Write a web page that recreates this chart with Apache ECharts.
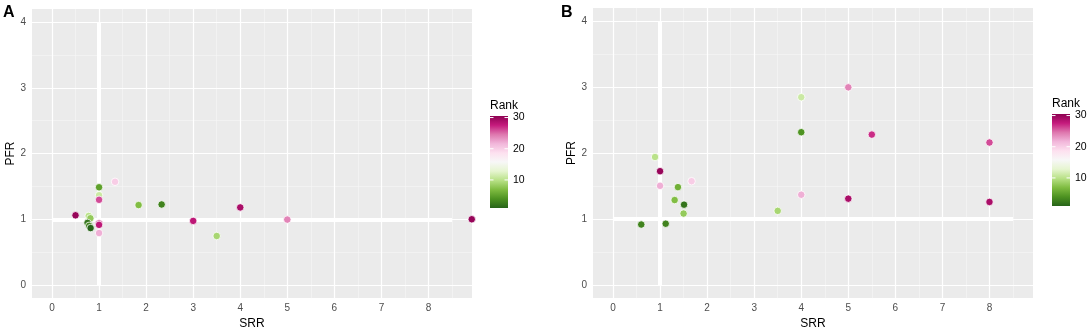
<!DOCTYPE html>
<html>
<head>
<meta charset="utf-8">
<script src="https://cdn.jsdelivr.net/npm/echarts@6/dist/echarts.min.js"></script>
<style>
  html, body { margin: 0; padding: 0; background: #fff; }
  #chart { width: 1091px; height: 335px; }
</style>
</head>
<body>
<div id="chart"></div>
<script>
// panel A
const srrA = [0.5, 0.78, 0.815, 0.755, 0.79, 0.82, 1, 1, 1, 1, 1, 1, 1.34, 1.84, 2.33, 3, 3.5, 4, 5, 8.92];
const pfrA = [1.06, 1.05, 1.015, 0.945, 0.9, 0.866, 1.487, 1.366, 1.296, 0.935, 0.915, 0.79, 1.57, 1.216, 1.225, 0.975, 0.745, 1.18, 0.995, 1.0];
const rankA = [30, 10, 8, 2, 3, 1, 5, 11, 26, 27, 28, 22, 20, 7, 3, 28, 9, 29, 24, 30];

// panel B
const srrB = [0.893, 1, 1, 1.38, 1.67, 1.31, 1.51, 1.5, 0.6, 1.12, 3.5, 4, 4, 4, 5, 5, 5.5, 8, 8];
const pfrB = [1.94, 1.725, 1.503, 1.483, 1.573, 1.287, 1.217, 1.082, 0.916, 0.928, 1.123, 2.847, 2.316, 1.368, 2.997, 1.308, 2.28, 2.16, 1.258];
const rankB = [10, 30, 22, 6, 20, 7, 2, 8, 3, 3, 9, 11, 4, 22, 24, 29, 27, 26, 29];

const xTicks = [0, 1, 2, 3, 4, 5, 6, 7, 8];
const xMinor = [0.5, 1.5, 2.5, 3.5, 4.5, 5.5, 6.5, 7.5, 8.5];
const yTicks = [0, 1, 2, 3, 4];
const yMinor = [0.5, 1.5, 2.5, 3.5];
const rankTicks = [10, 20, 30];
const RANK_MIN = 1, RANK_MAX = 30.5;

// PiYG, low -> high
const piyg = ['#276419', '#4d9221', '#7fbc41', '#b8e186', '#e6f5d0', '#f7f7f7',
              '#fde0ef', '#f1b6da', '#de77ae', '#c51b7d', '#8e0152'];

const FONT = '"Liberation Sans", Arial, sans-serif';

const grids = [
  { left: 32, top: 9, width: 440, height: 293 },
  { left: 593, top: 8, width: 440, height: 293 }
];

function xAxisFor(i) {
  return {
    gridIndex: i, type: 'value', min: -0.425, max: 8.925,
    name: 'SRR', nameLocation: 'middle', nameGap: 16,
    nameTextStyle: { color: '#000', fontSize: 12, fontFamily: FONT },
    axisLine: { show: false },
    axisTick: { show: true, customValues: xTicks, length: 3, lineStyle: { color: '#333', width: 1 } },
    axisLabel: { customValues: xTicks, color: '#4d4d4d', fontSize: 10, margin: 5, fontFamily: FONT },
    splitLine: { show: false }
  };
}

function yAxisFor(i) {
  return {
    gridIndex: i, type: 'value', min: -0.2, max: 4.2,
    name: 'PFR', nameLocation: 'middle', nameGap: 14,
    nameTextStyle: { color: '#000', fontSize: 12, fontFamily: FONT },
    axisLine: { show: false },
    axisTick: { show: true, customValues: yTicks, length: 3, lineStyle: { color: '#333', width: 1 } },
    axisLabel: { customValues: yTicks, color: '#4d4d4d', fontSize: 10, margin: 6, fontFamily: FONT },
    splitLine: { show: false }
  };
}

const minorStyle = { color: '#f7f7f7', width: 0.6, type: 'solid' };
const majorStyle = { color: '#ffffff', width: 1.2, type: 'solid' };
const refStyle = { color: '#ffffff', width: 4, type: 'solid' };

function gridSeries(i) {
  const lines = [];
  xMinor.forEach(v => lines.push({ xAxis: v, lineStyle: minorStyle }));
  yMinor.forEach(v => lines.push({ yAxis: v, lineStyle: minorStyle }));
  xTicks.forEach(v => lines.push({ xAxis: v, lineStyle: majorStyle }));
  yTicks.forEach(v => lines.push({ yAxis: v, lineStyle: majorStyle }));
  // reference lines SRR = 1 and PFR = 1
  lines.push([{ coord: [1, 0], lineStyle: refStyle }, { coord: [1, 4] }]);
  lines.push([{ coord: [0, 1], lineStyle: refStyle }, { coord: [8.5, 1] }]);
  return {
    type: 'scatter', xAxisIndex: i, yAxisIndex: i, data: [], z: 1, silent: true,
    markLine: {
      z: 1, symbol: 'none', silent: true, animation: false,
      label: { show: false }, emphasis: { disabled: true },
      data: lines
    }
  };
}

function pointSeries(i, xs, ys, ranks) {
  return {
    type: 'scatter', xAxisIndex: i, yAxisIndex: i, z: 6,
    symbolSize: 7.5,
    itemStyle: { borderColor: '#ffffff', borderWidth: 0.8, opacity: 1 },
    data: xs.map((x, k) => [x, ys[k], ranks[k]])
  };
}

function colorbar(left, top) {
  const w = 18, h = 92;
  const rankY = r => top + (RANK_MAX - r) / (RANK_MAX - RANK_MIN) * h;
  const els = [
    { type: 'text', left: left, top: top - 16,
      style: { text: 'Rank', fill: '#000', font: '12px ' + FONT } },
    { type: 'rect', shape: { x: left, y: top, width: w, height: h },
      style: { fill: new echarts.graphic.LinearGradient(0, 1, 0, 0,
        piyg.map((c, k) => ({ offset: k / (piyg.length - 1), color: c }))) } }
  ];
  rankTicks.forEach(r => {
    const y = rankY(r);
    els.push({ type: 'line', shape: { x1: left, y1: y, x2: left + 3.5, y2: y }, style: { stroke: '#fff', lineWidth: 1 } });
    els.push({ type: 'line', shape: { x1: left + w - 3.5, y1: y, x2: left + w, y2: y }, style: { stroke: '#fff', lineWidth: 1 } });
    els.push({ type: 'text', x: left + w + 5, y: y,
      style: { text: String(r), fill: '#000', font: '10.5px ' + FONT, verticalAlign: 'middle' } });
  });
  return els;
}

const chart = echarts.init(document.getElementById('chart'), null, { renderer: 'canvas' });

chart.setOption({
  animation: false,
  backgroundColor: '#fff',
  grid: grids.map(g => Object.assign({ show: true, backgroundColor: '#ebebeb', borderWidth: 0 }, g)),
  xAxis: [xAxisFor(0), xAxisFor(1)],
  yAxis: [yAxisFor(0), yAxisFor(1)],
  visualMap: [{
    type: 'continuous', show: false, dimension: 2,
    min: RANK_MIN, max: RANK_MAX, seriesIndex: [1, 3],
    inRange: { color: piyg }
  }],
  series: [
    gridSeries(0), pointSeries(0, srrA, pfrA, rankA),
    gridSeries(1), pointSeries(1, srrB, pfrB, rankB)
  ],
  graphic: [
    { type: 'text', left: 3, top: 5, style: { text: 'A', fill: '#000', font: 'bold 16px ' + FONT } },
    { type: 'text', left: 561, top: 5, style: { text: 'B', fill: '#000', font: 'bold 16px ' + FONT } },
    ...colorbar(490, 116),
    ...colorbar(1052, 114)
  ]
});
</script>
</body>
</html>
